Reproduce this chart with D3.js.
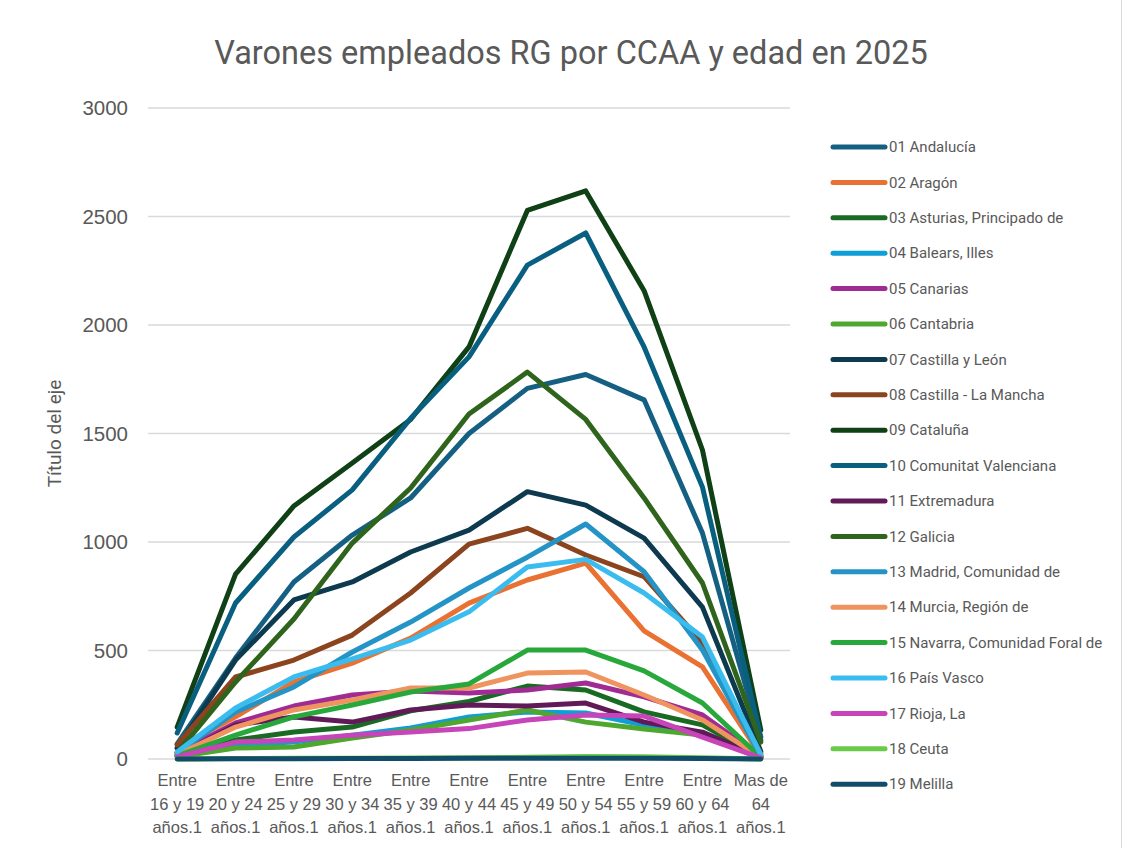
<!DOCTYPE html>
<html>
<head>
<meta charset="utf-8">
<script src="https://cdn.jsdelivr.net/npm/d3@7"></script>
<style>
  body { margin: 0; background: #fff; }
  svg { font-family: Roboto, "Open Sans", sans-serif; }
  .axis text { fill: #595959; }
</style>
</head>
<body>
<div id="chart"></div>
<script>
// Categories (age groups), split in three label lines
const categories = [
  "Entre 16 y 19 años.1", "Entre 20 y 24 años.1", "Entre 25 y 29 años.1",
  "Entre 30 y 34 años.1", "Entre 35 y 39 años.1", "Entre 40 y 44 años.1",
  "Entre 45 y 49 años.1", "Entre 50 y 54 años.1", "Entre 55 y 59 años.1",
  "Entre 60 y 64 años.1", "Mas de 64 años.1",
];
const categoryLines = [
  ["Entre", "16 y 19", "años.1"], ["Entre", "20 y 24", "años.1"],
  ["Entre", "25 y 29", "años.1"], ["Entre", "30 y 34", "años.1"],
  ["Entre", "35 y 39", "años.1"], ["Entre", "40 y 44", "años.1"],
  ["Entre", "45 y 49", "años.1"], ["Entre", "50 y 54", "años.1"],
  ["Entre", "55 y 59", "años.1"], ["Entre", "60 y 64", "años.1"],
  ["Mas de", "64", "años.1"],
];

const seriesNames = [
  "01 Andalucía", "02 Aragón", "03 Asturias, Principado de",
  "04 Balears, Illes", "05 Canarias", "06 Cantabria",
  "07 Castilla y León", "08 Castilla - La Mancha", "09 Cataluña",
  "10 Comunitat Valenciana", "11 Extremadura", "12 Galicia",
  "13 Madrid, Comunidad de", "14 Murcia, Región de",
  "15 Navarra, Comunidad Foral de", "16 País Vasco", "17 Rioja, La",
  "18 Ceuta", "19 Melilla",
];

// Values per series, one per category
const andalucia = [70, 465, 816, 1032, 1203, 1500, 1708, 1772, 1655, 1041, 88];
const aragon = [51, 194, 355, 442, 557, 718, 825, 903, 590, 424, 15];
const asturias = [20, 88, 124, 147, 222, 265, 336, 318, 217, 157, 8];
const balears = [15, 65, 78, 110, 143, 194, 217, 212, 157, 120, 8];
const canarias = [28, 166, 244, 295, 313, 304, 318, 350, 286, 203, 10];
const cantabria = [10, 51, 55, 97, 134, 180, 226, 170, 138, 110, 5];
const castillaLeon = [50, 456, 733, 816, 954, 1055, 1232, 1170, 1018, 700, 35];
const castillaMancha = [65, 378, 456, 571, 765, 990, 1063, 940, 840, 535, 25];
const cataluna = [147, 852, 1166, 1364, 1565, 1899, 2528, 2618, 2158, 1424, 134];
const valenciana = [120, 719, 1023, 1240, 1570, 1853, 2276, 2424, 1899, 1253, 101];
const extremadura = [15, 157, 194, 170, 226, 249, 244, 258, 170, 124, 8];
const galicia = [28, 355, 645, 995, 1249, 1590, 1783, 1565, 1203, 811, 78];
const madrid = [28, 217, 332, 493, 631, 788, 930, 1083, 863, 502, 15];
const murcia = [20, 147, 226, 272, 327, 327, 396, 401, 295, 180, 8];
const navarra = [15, 110, 194, 249, 309, 346, 502, 502, 406, 258, 8];
const paisVasco = [32, 235, 378, 461, 548, 678, 885, 920, 765, 562, 20];
const rioja = [10, 78, 88, 110, 124, 140, 180, 203, 198, 101, 5];
const ceuta = [0, 2, 3, 4, 5, 6, 8, 12, 10, 6, 0];
const melilla = [0, 1, 1, 2, 2, 3, 3, 4, 3, 2, 0];

const seriesValues = [
  andalucia, aragon, asturias, balears, canarias, cantabria, castillaLeon,
  castillaMancha, cataluna, valenciana, extremadura, galicia, madrid, murcia,
  navarra, paisVasco, rioja, ceuta, melilla,
];

const yTicks = [0, 500, 1000, 1500, 2000, 2500, 3000];

const colors = [
  "#156082", "#E97132", "#196B24", "#0F9ED5", "#A02B93", "#4EA72E",
  "#0D3A4E", "#8C441E", "#0F4016", "#095F80", "#601A58", "#2F641C",
  "#2394C5", "#EF945F", "#28A83B", "#3BBCEF", "#C844B9", "#6ACB48",
  "#114D68",
];

const width = 1132;
const height = 848;
const plot = {left: 148, right: 790, top: 108, bottom: 759};

const svg = d3.select("#chart")
  .append("svg")
  .attr("width", width)
  .attr("height", height);

// Chart area border
svg.append("rect")
  .attr("x", -1)
  .attr("y", -1)
  .attr("width", 1122.5)
  .attr("height", 860)
  .attr("fill", "#fff")
  .attr("stroke", "#d9d9d9");

// Title
svg.append("text")
  .attr("x", 571)
  .attr("y", 64)
  .attr("text-anchor", "middle")
  .attr("font-size", 32.5)
  .attr("fill", "#595959")
  .text("Varones empleados RG por CCAA y edad en 2025");

// Scales
const xScale = d3.scaleBand()
  .domain(categories)
  .range([plot.left, plot.right]);

const yScale = d3.scaleLinear()
  .domain([0, 3000])
  .range([plot.bottom, plot.top]);

// Gridlines
svg.append("g")
  .selectAll("line")
  .data(yTicks)
  .enter()
  .append("line")
  .attr("x1", plot.left)
  .attr("x2", plot.right)
  .attr("y1", (d) => yScale(d))
  .attr("y2", (d) => yScale(d))
  .attr("stroke", "#d9d9d9")
  .attr("stroke-width", 1.5);

// Y axis
const yAxis = d3.axisLeft(yScale)
  .tickValues(yTicks)
  .tickFormat(d3.format("d"))
  .tickSize(0)
  .tickPadding(20);

svg.append("g")
  .attr("class", "axis")
  .attr("transform", "translate(" + plot.left + ",0)")
  .call(yAxis)
  .call((g) => g.select(".domain").remove())
  .selectAll("text")
  .attr("font-size", 20.5);

svg.append("text")
  .attr("transform", "translate(61," + (plot.top + plot.bottom) / 2 + ") rotate(-90)")
  .attr("text-anchor", "middle")
  .attr("font-size", 19)
  .attr("fill", "#595959")
  .text("Título del eje");

// X axis with three line labels
const xAxis = d3.axisBottom(xScale)
  .tickSize(0)
  .tickFormat("");

const xg = svg.append("g")
  .attr("class", "axis")
  .attr("transform", "translate(0," + plot.bottom + ")")
  .call(xAxis);
xg.select(".domain").remove();

xg.selectAll(".tick")
  .append("text")
  .attr("text-anchor", "middle")
  .attr("font-size", 16.5)
  .attr("fill", "#595959")
  .selectAll("tspan")
  .data((d, i) => categoryLines[i])
  .enter()
  .append("tspan")
  .attr("x", 0)
  .attr("y", (d, i) => 27 + i * 23.5)
  .text((d) => d);

// Lines
const line = d3.line()
  .x((d, i) => xScale(categories[i]) + xScale.bandwidth() / 2)
  .y((d) => yScale(d));

svg.append("g")
  .selectAll("path")
  .data(seriesValues)
  .enter()
  .append("path")
  .attr("d", (d) => line(d))
  .attr("fill", "none")
  .attr("stroke", (d, i) => colors[i])
  .attr("stroke-width", 5)
  .attr("stroke-linejoin", "round")
  .attr("stroke-linecap", "round");

// Legend
const legend = svg.append("g")
  .selectAll("g")
  .data(seriesNames)
  .enter()
  .append("g")
  .attr("transform", (d, i) => "translate(831," + (147 + i * 35.4) + ")");

legend.append("line")
  .attr("x1", 2)
  .attr("x2", 54)
  .attr("stroke", (d, i) => colors[i])
  .attr("stroke-width", 5)
  .attr("stroke-linecap", "round");

legend.append("text")
  .attr("x", 58)
  .attr("dy", "0.35em")
  .attr("font-size", 15)
  .attr("fill", "#595959")
  .text((d) => d);
</script>
</body>
</html>
